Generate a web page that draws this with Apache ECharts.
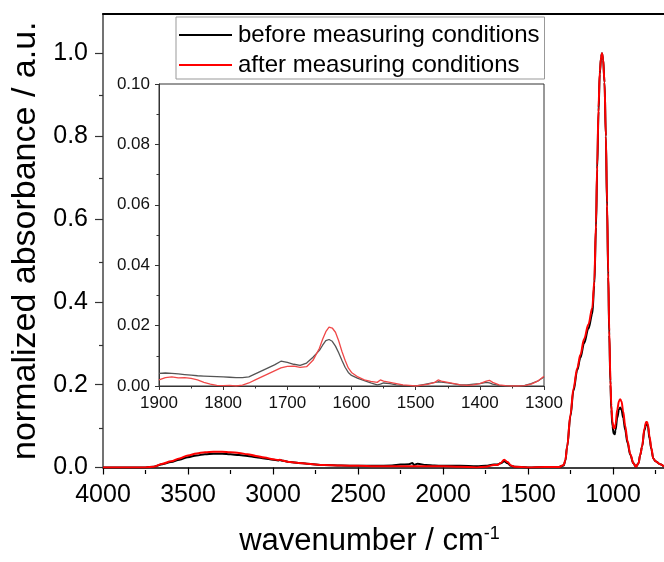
<!DOCTYPE html>
<html>
<head>
<meta charset="utf-8">
<script src="https://cdn.jsdelivr.net/npm/echarts@6/dist/echarts.min.js"></script>
<style>
html,body{margin:0;padding:0;background:#fff;}
#c{width:664px;height:562px;}
</style>
</head>
<body>
<div id="c"></div>
<script>
// ---- main spectrum ----
const wn = [4000,3900,3800,3750,3700,3650,3600,3550,3500,3450,3400,3350,3300,3250,3200,3150,3100,3050,3000,2970,2960,2940,2900,2850,2800,2700,2600,2500,2400,2300,2250,2200,2180,2170,2150,2100,2050,2000,1900,1800,1750,1700,1680,1660,1640,1620,1600,1580,1500,1400,1320,1290,1280,1270,1250,1233,1210,1192,1170,1145,1122,1110,1100,1093,1085,1078,1070,1065,1058,1050,1042,1035,1028,1022,1015,1010,1003,996,990,985,975,965,958,950,940,928,915,898,880,865,850,840,829,815,805,800,795,785,775,763,750,722,700];
const before = [0,0,0,0,0.002,0.008,0.013,0.019,0.025,0.029,0.032,0.033,0.033,0.032,0.030,0.028,0.025,0.022,0.019,0.017,0.018,0.016,0.013,0.011,0.009,0.006,0.005,0.004,0.004,0.005,0.007,0.008,0.011,0.006,0.009,0.006,0.005,0.004,0.004,0.003,0.004,0.007,0.007,0.010,0.015,0.010,0.004,0.002,0.0,0.001,0.001,0.005,0.017,0.05,0.125,0.185,0.235,0.265,0.30,0.335,0.37,0.44,0.58,0.72,0.86,0.95,0.99,1.0,0.985,0.93,0.8,0.63,0.46,0.32,0.2,0.14,0.1,0.082,0.08,0.09,0.12,0.14,0.145,0.14,0.12,0.09,0.06,0.03,0.01,0.002,0.01,0.03,0.05,0.09,0.105,0.105,0.1,0.07,0.045,0.022,0.015,0.008,0.002];
const after = [0,0,0,0,0.002,0.009,0.015,0.022,0.029,0.034,0.037,0.038,0.038,0.037,0.035,0.032,0.028,0.024,0.020,0.018,0.019,0.016,0.013,0.011,0.009,0.006,0.005,0.004,0.003,0.003,0.003,0.003,0.003,0.003,0.003,0.003,0.003,0.003,0.002,0.0,0.002,0.006,0.006,0.011,0.019,0.013,0.005,0.002,0.0,0.001,0.001,0.006,0.018,0.05,0.128,0.19,0.24,0.272,0.31,0.345,0.385,0.45,0.59,0.73,0.87,0.955,0.99,1.0,0.985,0.93,0.8,0.64,0.47,0.33,0.21,0.15,0.11,0.095,0.095,0.105,0.14,0.16,0.165,0.16,0.135,0.1,0.065,0.032,0.01,0.002,0.01,0.03,0.05,0.095,0.11,0.11,0.105,0.075,0.048,0.022,0.015,0.008,0.002];

// ---- inset (1900-1300 cm-1) ----
const insetWn = [1900,1890,1880,1870,1860,1850,1840,1830,1820,1810,1800,1790,1780,1770,1760,1750,1740,1730,1720,1710,1700,1690,1680,1670,1660,1650,1645,1640,1635,1630,1625,1620,1615,1610,1605,1600,1590,1580,1570,1560,1555,1550,1540,1530,1520,1510,1500,1490,1480,1470,1465,1460,1450,1440,1430,1420,1410,1400,1390,1385,1380,1370,1360,1350,1340,1330,1320,1310,1300];
const insetBefore = [0.0042,0.0043,0.0042,0.0040,0.0038,0.0036,0.0034,0.0033,0.0032,0.0031,0.0030,0.0029,0.0028,0.0028,0.0030,0.0040,0.0050,0.0060,0.0070,0.0082,0.0078,0.0072,0.0068,0.0076,0.0095,0.0118,0.0135,0.0150,0.0154,0.0148,0.0132,0.0110,0.0085,0.0062,0.0045,0.0035,0.0025,0.0018,0.0010,0.0004,0.0006,0.0010,0.0008,0.0004,0.0002,0.0001,0.0000,0.0004,0.0008,0.0012,0.0014,0.0013,0.0010,0.0007,0.0004,0.0004,0.0006,0.0008,0.0012,0.0010,0.0006,0.0002,0.0000,0.0000,0.0000,0.0002,0.0008,0.0016,0.0030];
const insetAfter = [0.0020,0.0028,0.0030,0.0027,0.0028,0.0025,0.0020,0.0012,0.0006,0.0002,0.0001,0.0002,0.0000,0.0003,0.0010,0.0020,0.0030,0.0040,0.0050,0.0060,0.0065,0.0066,0.0062,0.0064,0.0085,0.0125,0.0155,0.0180,0.0195,0.0192,0.0178,0.0150,0.0115,0.0085,0.0060,0.0045,0.0030,0.0020,0.0015,0.0012,0.0020,0.0016,0.0012,0.0008,0.0004,0.0002,0.0000,0.0003,0.0006,0.0012,0.0020,0.0016,0.0012,0.0008,0.0004,0.0002,0.0004,0.0008,0.0016,0.0019,0.0012,0.0004,0.0001,0.0000,0.0000,0.0001,0.0006,0.0016,0.0032];

// ---- tick values ----
const xMajor = [1000,1500,2000,2500,3000,3500,4000];
const xMinor = [750,1250,1750,2250,2750,3250,3750];
const yMajor = [0,0.2,0.4,0.6,0.8,1.0];
const yMinor = [0.1,0.3,0.5,0.7,0.9];

const seriesNames = ['before measuring conditions','after measuring conditions'];

function zip(x, y){ return x.map((v,i)=>[v,y[i]]); }

const FONT = 'Arial, "Liberation Sans", sans-serif';
const mainRect = {left:103, right:0, top:14, bottom:92};

const chart = echarts.init(document.getElementById('c'), null, {renderer:'canvas'});
chart.setOption({
  animation:false,
  backgroundColor:'#fff',
  textStyle:{fontFamily:FONT},
  legend:{
    data:seriesNames,
    orient:'vertical',
    left:176, top:17,
    padding:[6,5,2,3],
    itemGap:6,
    itemWidth:53, itemHeight:2,
    icon:'rect',
    borderColor:'#999', borderWidth:1,
    textStyle:{fontSize:24, color:'#000', fontFamily:FONT, lineHeight:24, padding:[0,0,0,1]},
    selectedMode:false
  },
  grid:[
    Object.assign({id:'main'}, mainRect),
    Object.assign({id:'minor'}, mainRect),
    {id:'inset', left:159, right:120, top:84, bottom:176, show:true, borderColor:'#333', borderWidth:1, backgroundColor:'transparent'}
  ],
  xAxis:[
    {
      gridIndex:0, type:'value', inverse:true, min:700, max:4000, position:'bottom',
      axisLine:{show:true, onZero:false, lineStyle:{color:'#000', width:1.5}},
      axisTick:{show:true, inside:false, length:7, customValues:xMajor, lineStyle:{color:'#000', width:1.2}},
      axisLabel:{show:true, customValues:xMajor, fontSize:25, color:'#000', margin:15, fontFamily:FONT,
        formatter:v=>String(v)},
      splitLine:{show:false},
      name:'{a|wavenumber / cm}{b|-1}',
      nameLocation:'middle', nameGap:58,
      nameTextStyle:{padding:[0,28,0,0], rich:{
        a:{fontSize:31, color:'#000', fontFamily:FONT},
        b:{fontSize:18, color:'#000', fontFamily:FONT, verticalAlign:'top', padding:[0,0,14,0]}
      }}
    },
    {
      gridIndex:0, type:'value', inverse:true, min:700, max:4000, position:'top',
      axisLine:{show:true, onZero:false, lineStyle:{color:'#000', width:2}},
      axisTick:{show:false}, axisLabel:{show:false}, splitLine:{show:false}
    },
    {
      gridIndex:1, type:'value', inverse:true, min:700, max:4000, position:'bottom',
      axisLine:{show:false, onZero:false},
      axisTick:{show:true, inside:false, length:4, customValues:xMinor, lineStyle:{color:'#000', width:1.2}},
      axisLabel:{show:false}, splitLine:{show:false}
    },
    {
      gridIndex:2, type:'value', inverse:true, min:1300, max:1900, interval:100, position:'bottom',
      axisLine:{show:true, onZero:false, lineStyle:{color:'#333', width:1}},
      axisTick:{show:true, inside:false, length:4, lineStyle:{color:'#333'}},
      minorTick:{show:true, splitNumber:2, length:2.5, lineStyle:{color:'#333'}},
      axisLabel:{fontSize:17, color:'#111', margin:9, fontFamily:FONT, formatter:v=>String(v)},
      splitLine:{show:false}, minorSplitLine:{show:false}
    }
  ],
  yAxis:[
    {
      gridIndex:0, type:'value', min:0, max:1.095, position:'left',
      axisLine:{show:true, onZero:false, lineStyle:{color:'#444', width:1.5}},
      axisTick:{show:true, inside:false, length:8, customValues:yMajor, lineStyle:{color:'#333', width:1.2}},
      axisLabel:{show:true, customValues:yMajor, fontSize:25, color:'#000', margin:15, fontFamily:FONT,
        formatter:v=>Number(v).toFixed(1)},
      splitLine:{show:false},
      name:'normalized absorbance / a.u.',
      nameLocation:'middle', nameGap:56,
      nameTextStyle:{fontSize:34, color:'#000', fontFamily:FONT}
    },
    {
      gridIndex:1, type:'value', min:0, max:1.095, position:'left',
      axisLine:{show:false, onZero:false},
      axisTick:{show:true, inside:false, length:4, customValues:yMinor, lineStyle:{color:'#333', width:1.2}},
      axisLabel:{show:false}, splitLine:{show:false}
    },
    {
      gridIndex:2, type:'value', min:0, max:0.1, interval:0.02, position:'left',
      axisLine:{show:true, onZero:false, lineStyle:{color:'#333', width:1}},
      axisTick:{show:true, inside:false, length:4, lineStyle:{color:'#333'}},
      minorTick:{show:true, splitNumber:2, length:2.5, lineStyle:{color:'#333'}},
      axisLabel:{fontSize:17, color:'#111', margin:9, fontFamily:FONT, formatter:v=>Number(v).toFixed(2)},
      splitLine:{show:false}, minorSplitLine:{show:false}
    }
  ],
  series:[
    {name:seriesNames[0], type:'line', xAxisIndex:0, yAxisIndex:0, data:zip(wn,before),
      showSymbol:false, smooth:0.35, smoothMonotone:'x', color:'#000', lineStyle:{color:'#000', width:2}, z:2},
    {name:seriesNames[1], type:'line', xAxisIndex:0, yAxisIndex:0, data:zip(wn,after),
      showSymbol:false, smooth:0.35, smoothMonotone:'x', color:'#ff0000', lineStyle:{color:'#ff0000', width:2}, z:3},
    {name:'inset-before', type:'line', xAxisIndex:3, yAxisIndex:2, data:zip(insetWn,insetBefore),
      showSymbol:false, color:'#555', lineStyle:{color:'#555', width:1.3}, z:4},
    {name:'inset-after', type:'line', xAxisIndex:3, yAxisIndex:2, data:zip(insetWn,insetAfter),
      showSymbol:false, color:'#f04848', lineStyle:{color:'#f04848', width:1.3}, z:5}
  ]
});
</script>
</body>
</html>
